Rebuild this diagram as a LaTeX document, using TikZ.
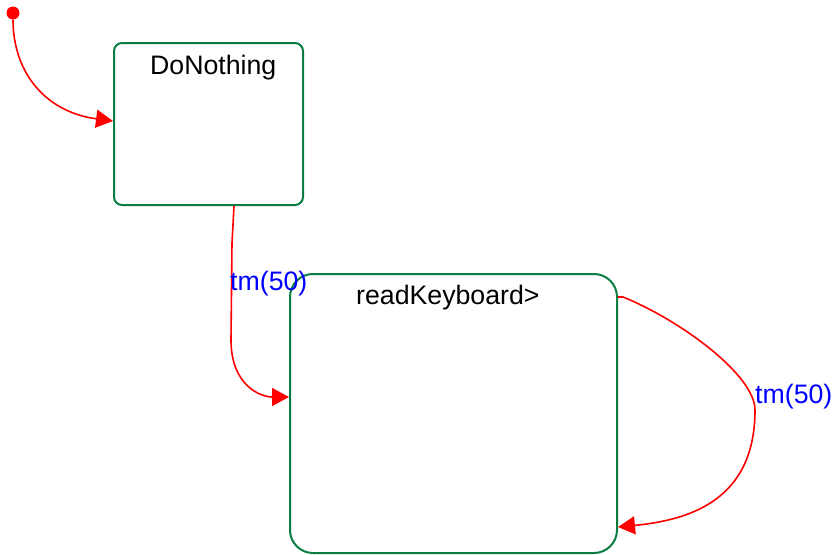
\documentclass[tikz,border=0pt]{standalone}
\usepackage{fontspec}
\setmainfont{Liberation Sans}
\usetikzlibrary{arrows.meta}
\definecolor{stategreen}{RGB}{10,125,65}
\definecolor{transred}{RGB}{255,0,0}
\definecolor{guardblue}{RGB}{0,0,255}
\tikzset{
  state/.style={draw=stategreen, line width=2pt, fill=white, inner sep=0pt},
  title/.style={anchor=base west, inner sep=0pt, text=black, font=\fontsize{26.7}{32}\selectfont},
  guard/.style={anchor=base west, inner sep=0pt, text=guardblue, font=\fontsize{26.7}{32}\selectfont},
  trans/.style={draw=transred, line width=1.6pt, -{Triangle[length=17pt,width=18pt]}},
}
\begin{document}
\begin{tikzpicture}[x=1pt,y=-1pt]
\useasboundingbox (0,0) rectangle (835,554);
% states
\node[state, rounded corners=8pt, minimum width=189pt, minimum height=162pt] (dn) at (208.5,124) {};
\node[state, rounded corners=23pt, minimum width=327pt, minimum height=279pt] (rk) at (453.5,413.5) {};
\node[title] (dntitle) at (150,74) {DoNothing};
\node[title] (rktitle) at (356,304) {readKeyboard>};
% initial pseudo-state
\node[circle, fill=transred, inner sep=0pt, minimum size=13pt] (init) at (13,13) {};
% transitions
\coordinate (dnout) at ([xshift=25.5pt]dn.south);
\coordinate (rkin) at ([yshift=16.5pt]rk.west);
\coordinate (rkself) at ([yshift=116.5pt]rk.east);
\coordinate (rkselfin) at ([yshift=-113.5pt]rk.east);
\draw[trans] (init.south) .. controls (13,72) and (45,112) .. ([yshift=3pt]dn.west);
\draw[trans] (dnout) -- (232,243) -- (231,340) .. controls (231,385) and (260,397) .. (rkin);
\draw[trans] (rkself) -- +(5,0) .. controls (680,320) and (755,375) .. (755,410)
  .. controls (755,500) and (690,520) .. (rkselfin);
% guards
\node[guard] (g1) at (230,290) {tm(50)};
\node[guard] (g2) at (755,403) {tm(50)};
\end{tikzpicture}
\end{document}
